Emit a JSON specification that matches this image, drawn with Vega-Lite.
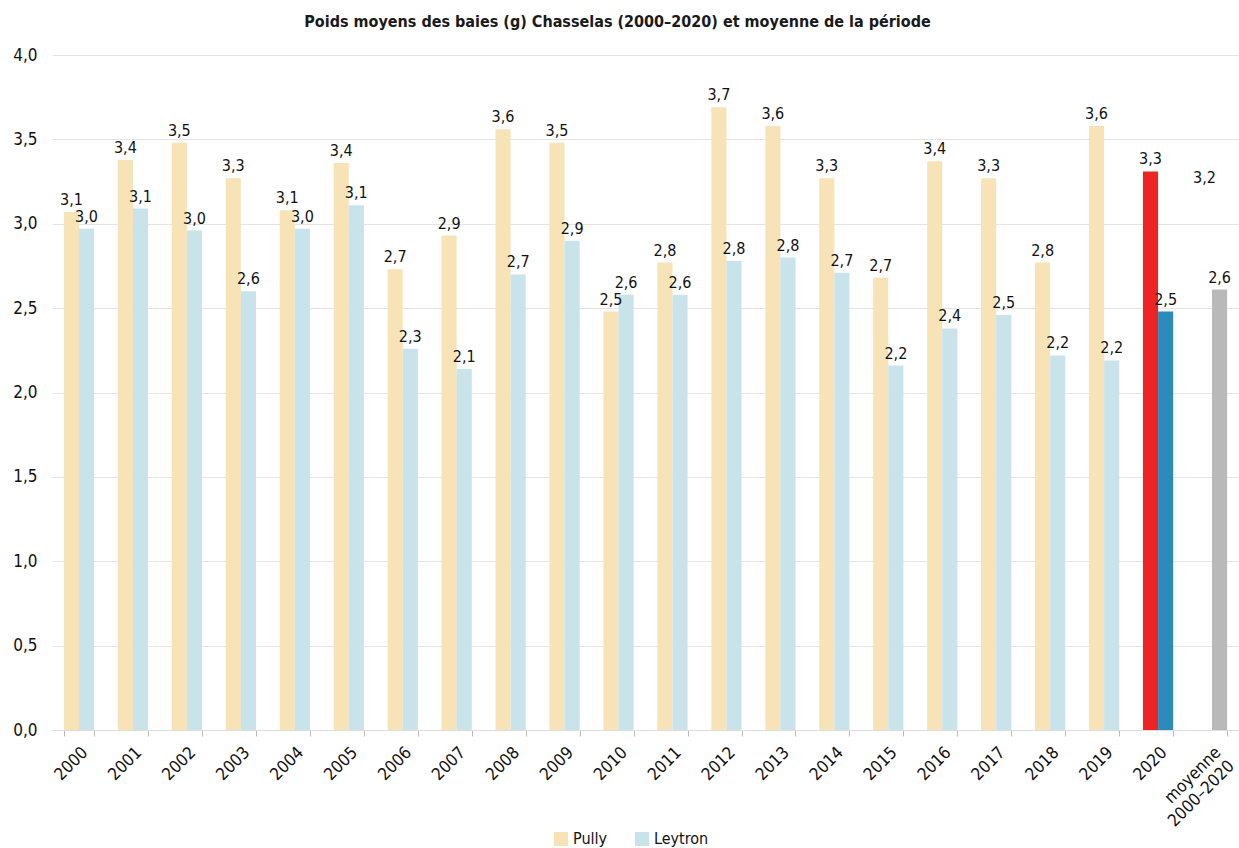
{
  "$schema": "https://vega.github.io/schema/vega-lite/v6.json",
  "autosize": {"type": "none"},
  "padding": {"left": 52, "top": 55, "right": 0, "bottom": 118},
  "width": 1187,
  "height": 675,
  "background": "white",
  "title": {
    "text": "Poids moyens des baies (g) Chasselas (2000–2020) et moyenne de la période",
    "font": "DejaVu Sans Condensed, Open Sans, sans-serif",
    "fontSize": 16,
    "fontWeight": "bold",
    "color": "#1a1a1a",
    "anchor": "middle",
    "dx": -28,
    "offset": 16
  },
  "config": {
    "locale": {"number": {"decimal": ",", "thousands": ".", "grouping": [3], "currency": ["", ""]}},
    "view": {"stroke": null},
    "font": "DejaVu Sans Condensed, Open Sans, sans-serif"
  },
  "data": {
    "values": [
      {"year": "2000", "series": "Pully", "value": 3.07}, {"year": "2000", "series": "Leytron", "value": 2.97},
      {"year": "2001", "series": "Pully", "value": 3.38}, {"year": "2001", "series": "Leytron", "value": 3.09},
      {"year": "2002", "series": "Pully", "value": 3.48}, {"year": "2002", "series": "Leytron", "value": 2.96},
      {"year": "2003", "series": "Pully", "value": 3.27}, {"year": "2003", "series": "Leytron", "value": 2.6},
      {"year": "2004", "series": "Pully", "value": 3.08}, {"year": "2004", "series": "Leytron", "value": 2.97},
      {"year": "2005", "series": "Pully", "value": 3.36}, {"year": "2005", "series": "Leytron", "value": 3.11},
      {"year": "2006", "series": "Pully", "value": 2.73}, {"year": "2006", "series": "Leytron", "value": 2.26},
      {"year": "2007", "series": "Pully", "value": 2.93}, {"year": "2007", "series": "Leytron", "value": 2.14},
      {"year": "2008", "series": "Pully", "value": 3.56}, {"year": "2008", "series": "Leytron", "value": 2.7},
      {"year": "2009", "series": "Pully", "value": 3.48}, {"year": "2009", "series": "Leytron", "value": 2.9},
      {"year": "2010", "series": "Pully", "value": 2.48}, {"year": "2010", "series": "Leytron", "value": 2.58},
      {"year": "2011", "series": "Pully", "value": 2.77}, {"year": "2011", "series": "Leytron", "value": 2.58},
      {"year": "2012", "series": "Pully", "value": 3.69}, {"year": "2012", "series": "Leytron", "value": 2.78},
      {"year": "2013", "series": "Pully", "value": 3.58}, {"year": "2013", "series": "Leytron", "value": 2.8},
      {"year": "2014", "series": "Pully", "value": 3.27}, {"year": "2014", "series": "Leytron", "value": 2.71},
      {"year": "2015", "series": "Pully", "value": 2.68}, {"year": "2015", "series": "Leytron", "value": 2.16},
      {"year": "2016", "series": "Pully", "value": 3.37}, {"year": "2016", "series": "Leytron", "value": 2.38},
      {"year": "2017", "series": "Pully", "value": 3.27}, {"year": "2017", "series": "Leytron", "value": 2.46},
      {"year": "2018", "series": "Pully", "value": 2.77}, {"year": "2018", "series": "Leytron", "value": 2.22},
      {"year": "2019", "series": "Pully", "value": 3.58}, {"year": "2019", "series": "Leytron", "value": 2.19},
      {"year": "2020", "series": "Pully", "value": 3.31}, {"year": "2020", "series": "Leytron", "value": 2.48},
      {"year": "moyenne 2000–2020", "series": "Pully", "value": 3.2}, {"year": "moyenne 2000–2020", "series": "Leytron", "value": 2.61}
    ]
  },
  "encoding": {
    "x": {
      "field": "year",
      "type": "nominal",
      "sort": null,
      "scale": {"paddingInner": 0.44, "paddingOuter": 0.22},
      "axis": {
        "title": null,
        "labelAngle": -45,
        "labelFontSize": 17,
        "labelColor": "#111",
        "labelPadding": 8,
        "tickBand": "extent",
        "tickColor": "#bbbbbb",
        "tickSize": 6,
        "domainColor": "#dddddd",
        "labelExpr": "datum.value == 'moyenne 2000–2020' ? ['moyenne', '2000–2020'] : datum.value"
      }
    },
    "xOffset": {"field": "series", "type": "nominal", "sort": ["Pully", "Leytron"]},
    "y": {
      "field": "value",
      "type": "quantitative",
      "scale": {"domain": [0, 4], "nice": false},
      "axis": {
        "title": null,
        "values": [0, 0.5, 1, 1.5, 2, 2.5, 3, 3.5, 4],
        "format": ".1f",
        "labelFontSize": 17,
        "labelColor": "#111",
        "labelPadding": 15,
        "ticks": false,
        "domain": false,
        "gridColor": "#e4e4e4",
        "gridWidth": 1
      }
    }
  },
  "layer": [
    {
      "mark": {"type": "bar"},
      "encoding": {
        "color": {
          "condition": [
            {"test": "datum.year == '2020' && datum.series == 'Pully'", "value": "#ee2424"},
            {"test": "datum.year == '2020' && datum.series == 'Leytron'", "value": "#2b8bbb"},
            {"test": "datum.year == 'moyenne 2000–2020' && datum.series == 'Pully'", "value": "rgba(255,255,255,0)"},
            {"test": "datum.year == 'moyenne 2000–2020' && datum.series == 'Leytron'", "value": "#b9b9b9"}
          ],
          "field": "series",
          "type": "nominal",
          "sort": ["Pully", "Leytron"],
          "scale": {"domain": ["Pully", "Leytron"], "range": ["#f8e3b6", "#c8e3ea"]},
          "legend": {
            "title": null,
            "orient": "none",
            "legendX": 501,
            "legendY": 776,
            "direction": "horizontal",
            "symbolType": "square",
            "symbolSize": 200,
            "symbolStrokeWidth": 0,
            "labelFontSize": 16,
            "labelColor": "#111",
            "columnPadding": 26
          }
        }
      }
    },
    {
      "mark": {"type": "text", "baseline": "bottom", "dy": -4, "fontSize": 16, "color": "#111"},
      "encoding": {
        "text": {"field": "value", "type": "quantitative", "format": ".1f"}
      }
    }
  ]
}
